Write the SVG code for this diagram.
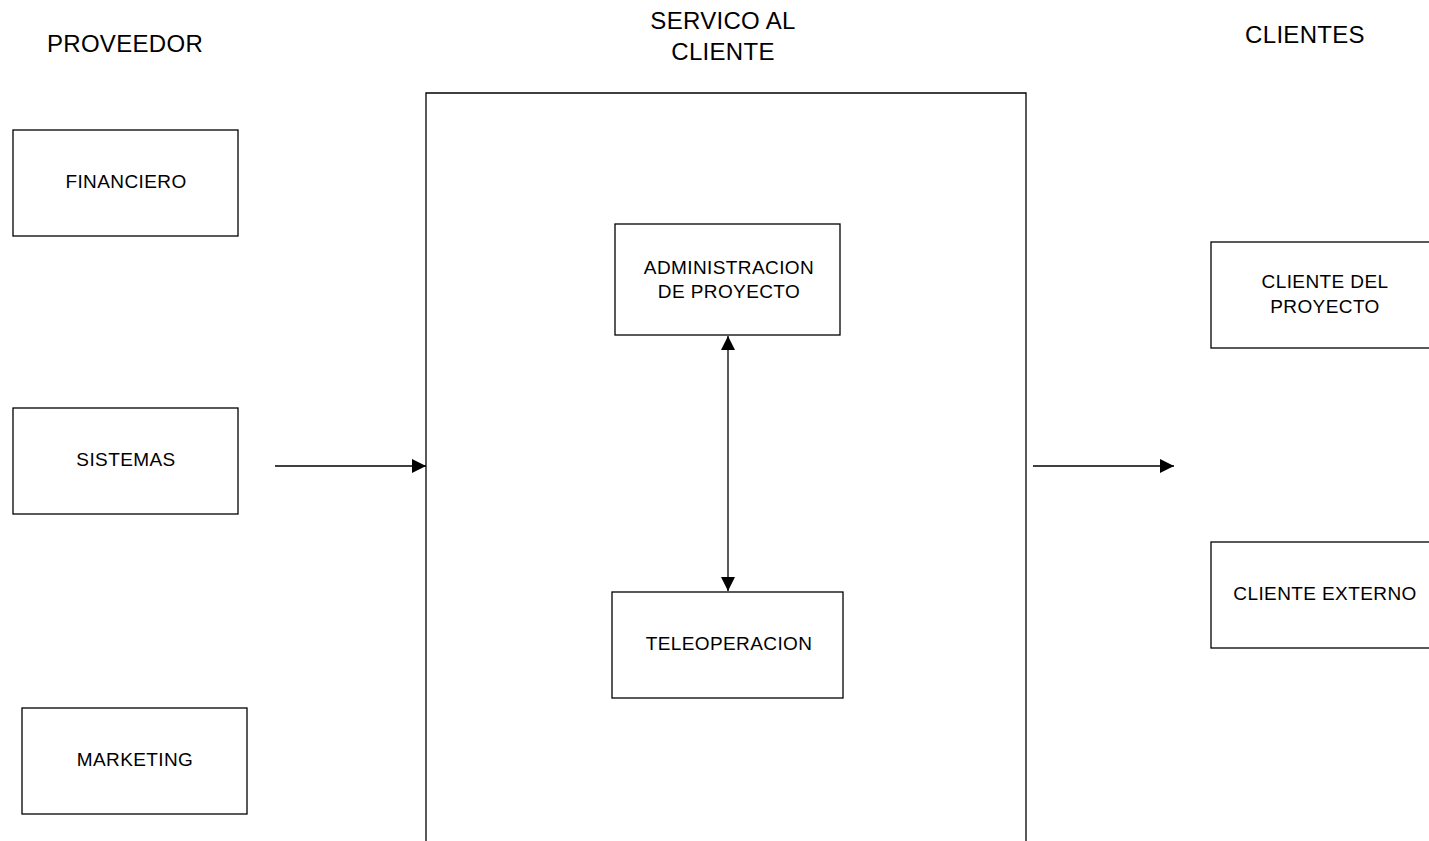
<svg xmlns="http://www.w3.org/2000/svg" width="1429" height="841" viewBox="0 0 1429 841">
<style>
.box{fill:#fff;stroke:#000;stroke-width:1.3}
.t{font-family:"Liberation Sans",Arial,sans-serif;font-size:19px;letter-spacing:0.4px;fill:#000;text-anchor:middle}
.h{font-family:"Liberation Sans",Arial,sans-serif;font-size:24px;letter-spacing:0.3px;fill:#000;text-anchor:middle}
.c{stroke:#000;stroke-width:1.3;fill:none}
</style>
<defs>
<marker id="ah" viewBox="0 0 10 10" refX="10" refY="5" markerWidth="14" markerHeight="14" markerUnits="userSpaceOnUse" orient="auto-start-reverse">
<path d="M0,0 L10,5 L0,10 z" fill="#000"/>
</marker>
</defs>
<rect width="1429" height="841" fill="#fff"/>
<g id="headings">
<text class="h" x="125" y="52">PROVEEDOR</text>
<text class="h" x="723" y="29">SERVICO AL</text>
<text class="h" x="723" y="60">CLIENTE</text>
<text class="h" x="1305" y="43">CLIENTES</text>
</g>
<g id="servicio">
<path class="box" d="M426,842 V93 H1026 V842"/>
</g>
<g id="financiero">
<rect class="box" x="13" y="130" width="225" height="106"/>
<text class="t" x="126" y="188">FINANCIERO</text>
</g>
<g id="sistemas">
<rect class="box" x="13" y="408" width="225" height="106"/>
<text class="t" x="126" y="466">SISTEMAS</text>
</g>
<g id="marketing">
<rect class="box" x="22" y="708" width="225" height="106"/>
<text class="t" x="135" y="766">MARKETING</text>
</g>
<g id="administracion">
<rect class="box" x="615" y="224" width="225" height="111"/>
<text class="t" x="729" y="274">ADMINISTRACION</text>
<text class="t" x="729" y="298">DE PROYECTO</text>
</g>
<g id="teleoperacion">
<rect class="box" x="612" y="592" width="231" height="106"/>
<text class="t" x="729" y="650">TELEOPERACION</text>
</g>
<g id="cliente-proyecto">
<rect class="box" x="1211" y="242" width="240" height="106"/>
<text class="t" x="1325" y="288">CLIENTE DEL</text>
<text class="t" x="1325" y="313">PROYECTO</text>
</g>
<g id="cliente-externo">
<rect class="box" x="1211" y="542" width="240" height="106"/>
<text class="t" x="1325" y="600">CLIENTE EXTERNO</text>
</g>
<g id="connectors">
<line class="c" x1="275" y1="466" x2="426" y2="466" marker-end="url(#ah)"/>
<line class="c" x1="1033" y1="466" x2="1174" y2="466" marker-end="url(#ah)"/>
<line class="c" x1="728" y1="336" x2="728" y2="591" marker-start="url(#ah)" marker-end="url(#ah)"/>
</g>
</svg>
